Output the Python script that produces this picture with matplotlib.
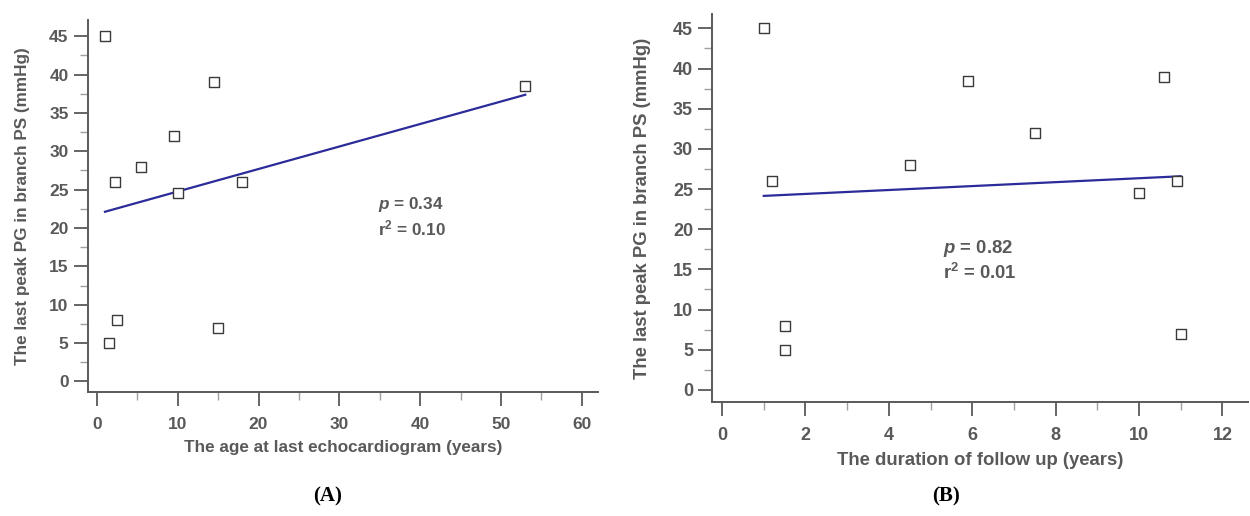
import numpy as np
import matplotlib
matplotlib.use("Agg")
import matplotlib.pyplot as plt
from matplotlib.ticker import MultipleLocator

# data
age_years = [1, 14.5, 53, 9.5, 5.5, 2.2, 18, 10, 2.5, 1.5, 15]
followup_years = [1, 10.6, 5.9, 7.5, 4.5, 1.2, 10.9, 10, 1.5, 1.5, 11]
peak_pg = [45, 39, 38.5, 32, 28, 26, 26, 24.5, 8, 5, 7]

stats_a = ("0.34", "0.10")
stats_b = ("0.82", "0.01")

ylabel = "The last peak PG in branch PS (mmHg)"
xlabel_a = "The age at last echocardiogram (years)"
xlabel_b = "The duration of follow up (years)"

GREY = "#595959"
LINE = "#2b2b9a"

plt.rcParams["font.family"] = ["Liberation Sans", "DejaVu Sans"]
plt.rcParams["mathtext.fontset"] = "custom"
plt.rcParams["mathtext.rm"] = "Liberation Sans:bold"
plt.rcParams["mathtext.it"] = "Liberation Sans:italic:bold"
plt.rcParams["mathtext.bf"] = "Liberation Sans:bold"

fig = plt.figure(figsize=(12.5, 5.16), dpi=100)
ax_a = fig.add_axes([0.0704, 0.240, 0.408, 0.721])
ax_b = fig.add_axes([0.570, 0.221, 0.428, 0.752])


def style(ax, xmaj, xmin, fs):
    for s in ("top", "right"):
        ax.spines[s].set_visible(False)
    for s in ("left", "bottom"):
        ax.spines[s].set_color(GREY)
        ax.spines[s].set_linewidth(1.4)
    ax.xaxis.set_major_locator(MultipleLocator(xmaj))
    ax.xaxis.set_minor_locator(MultipleLocator(xmin))
    ax.yaxis.set_major_locator(MultipleLocator(5))
    ax.yaxis.set_minor_locator(MultipleLocator(2.5))
    ax.tick_params(which="major", length=10, width=1.3, color=GREY, labelsize=fs,
                   labelcolor=GREY)
    ax.tick_params(which="minor", length=6, width=1, color="#a0a0a0")
    ax.tick_params(axis="x", which="major", pad=8)
    ax.tick_params(axis="y", which="major", pad=4)
    for lab in ax.get_xticklabels() + ax.get_yticklabels():
        lab.set_fontweight("bold")


def panel(ax, x, y, stats, xlabel, txt_xy, fs, ypad):
    ax.scatter(x, y, marker="s", s=42, facecolors="white", edgecolors="#3a3a3a",
               linewidths=1, zorder=3)
    slope, icpt = np.polyfit(x, y, 1)
    xs = np.array([min(x), max(x)])
    ax.plot(xs, slope * xs + icpt, color=LINE, lw=1.6, zorder=2)
    ax.text(txt_xy[0], txt_xy[1], "$\\it{p}$ = " + stats[0] + "\nr$^{2}$ = " + stats[1],
            fontsize=fs, fontweight="bold", color=GREY, ha="left", va="center",
            linespacing=1.25)
    ax.set_xlabel(xlabel, fontsize=fs, fontweight="bold", color=GREY, labelpad=6)
    ax.set_ylabel(ylabel, fontsize=fs, fontweight="bold", color=GREY, labelpad=ypad)


panel(ax_a, age_years, peak_pg, stats_a, xlabel_a, (34.8, 21.5), 12.3, 14)
ax_a.set_xlim(-1.1, 62)
ax_a.set_ylim(-1.4, 47.1)
style(ax_a, 10, 5, 12.5)

panel(ax_b, followup_years, peak_pg, stats_b, xlabel_b, (5.3, 16.1), 13.3, 16)
ax_b.set_xlim(-0.23, 12.6)
ax_b.set_ylim(-1.5, 46.8)
style(ax_b, 2, 1, 13)

fig.text(0.262, 0.037, "(A)", family=["Liberation Serif", "DejaVu Serif"],
         fontsize=15, fontweight="bold", ha="center", va="center", color="black")
fig.text(0.757, 0.037, "(B)", family=["Liberation Serif", "DejaVu Serif"],
         fontsize=15, fontweight="bold", ha="center", va="center", color="black")

fig.savefig("out.png", dpi=100)
